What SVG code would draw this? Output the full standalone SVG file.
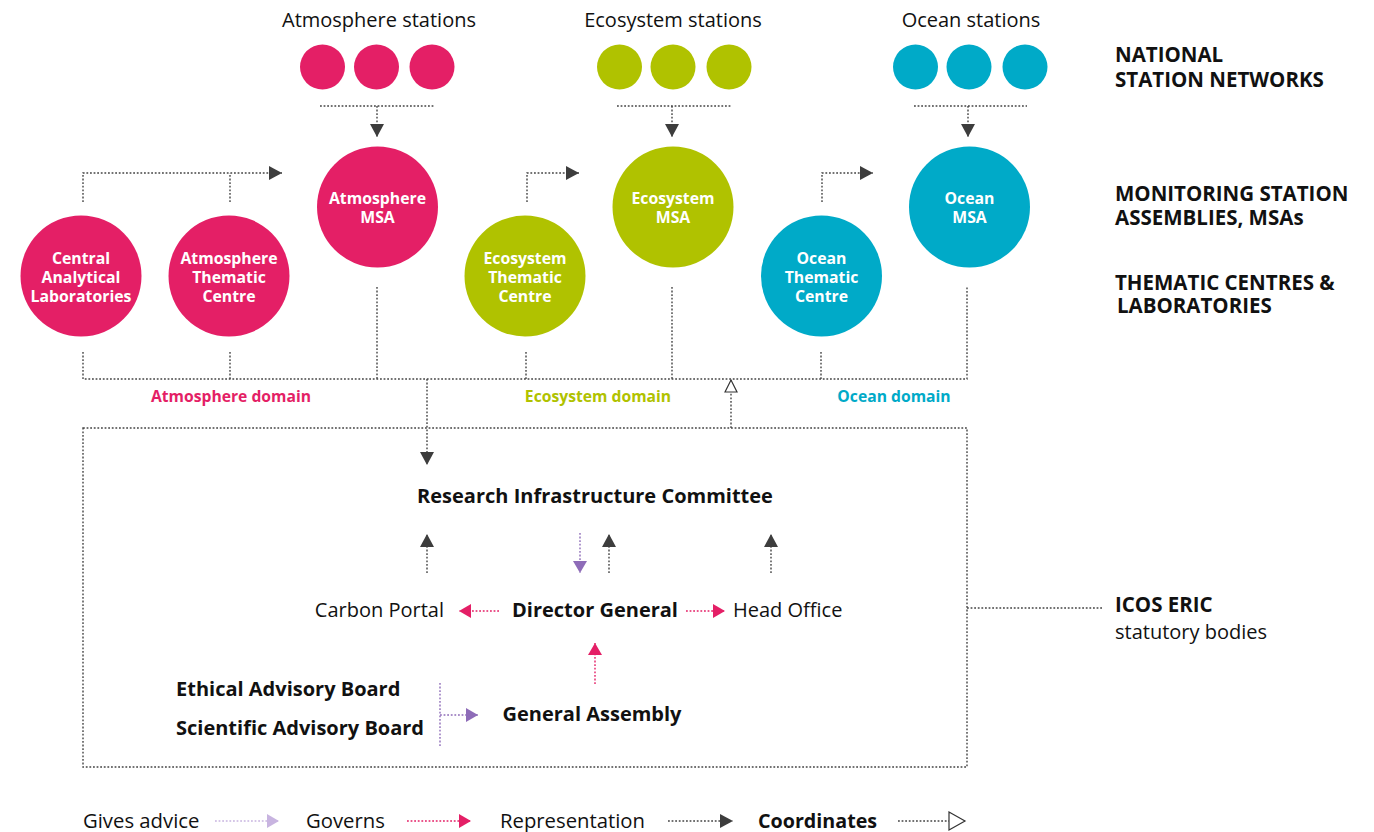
<svg xmlns="http://www.w3.org/2000/svg" width="1374" height="832" viewBox="0 0 1374 832">
<style>
text{font-family:"Open Sans","Noto Sans","DejaVu Sans",sans-serif;}
.w{fill:#fff;font-weight:bold;font-size:15.8px;text-anchor:middle;}
.lbl{font-size:20px;fill:#111;}
.lg{font-size:20.3px;fill:#111;}
.b{font-weight:bold;}
.c{text-anchor:middle;}
.side{font-size:20.5px;font-weight:bold;fill:#111;}
.dom{font-size:15.7px;font-weight:bold;text-anchor:middle;}
.dk{fill:none;stroke:#444;stroke-width:1.4;stroke-dasharray:1.8 1.8;}
.pk{fill:none;stroke:#e41f66;stroke-width:1.4;stroke-dasharray:1.8 1.8;}
.pu{fill:none;stroke:#8e6cb8;stroke-width:1.4;stroke-dasharray:1.8 1.8;}
.lp{fill:none;stroke:#c8b4e0;stroke-width:1.4;stroke-dasharray:1.8 1.8;}
.pink{fill:#e41f66;}
.green{fill:#b0c200;}
.blue{fill:#00aac8;}
</style>
<defs>
<marker id="aD" markerUnits="userSpaceOnUse" markerWidth="14" markerHeight="14" refX="13" refY="7" orient="auto"><path d="M0,0 L13,7 L0,14 z" fill="#3d3d3d"/></marker>
<marker id="aP" markerUnits="userSpaceOnUse" markerWidth="14" markerHeight="14" refX="12" refY="7" orient="auto"><path d="M0,0 L12,7 L0,14 z" fill="#e41f66"/></marker>
<marker id="aU" markerUnits="userSpaceOnUse" markerWidth="14" markerHeight="14" refX="12" refY="7" orient="auto"><path d="M0,0 L12,7 L0,14 z" fill="#8e6cb8"/></marker>
<marker id="aL" markerUnits="userSpaceOnUse" markerWidth="14" markerHeight="14" refX="12" refY="7" orient="auto"><path d="M0,0 L12,7 L0,14 z" fill="#c8b4e0"/></marker>
<marker id="aH" markerUnits="userSpaceOnUse" markerWidth="20" markerHeight="22" refX="17" refY="10" orient="auto"><path d="M1,1 L17,10 L1,19 z" fill="#fff" stroke="#333" stroke-width="1.2"/></marker>
<marker id="aHs" markerUnits="userSpaceOnUse" markerWidth="16" markerHeight="16" refX="13" refY="7" orient="auto"><path d="M1,1 L13,7 L1,13 z" fill="#fff" stroke="#333" stroke-width="1.2"/></marker>
</defs>

<g id="atmosphere-stations">
<text class="lbl c" x="379" y="27">Atmosphere stations</text>
<circle class="pink" cx="322.5" cy="67" r="22.5"/>
<circle class="pink" cx="376.5" cy="67" r="22.5"/>
<circle class="pink" cx="432" cy="67" r="22.5"/>
</g>
<g id="ecosystem-stations">
<text class="lbl c" x="673" y="27">Ecosystem stations</text>
<circle class="green" cx="619.5" cy="67" r="22.5"/>
<circle class="green" cx="673" cy="67" r="22.5"/>
<circle class="green" cx="729" cy="67" r="22.5"/>
</g>
<g id="ocean-stations">
<text class="lbl c" x="971" y="27">Ocean stations</text>
<circle class="blue" cx="915.5" cy="67" r="22.5"/>
<circle class="blue" cx="969" cy="67" r="22.5"/>
<circle class="blue" cx="1025" cy="67" r="22.5"/>
</g>

<g id="central-analytical-laboratories">
<circle class="pink" cx="81" cy="276" r="60.5"/>
<text class="w" x="81" y="264">Central</text>
<text class="w" x="81" y="283">Analytical</text>
<text class="w" x="81" y="302">Laboratories</text>
</g>
<g id="atmosphere-thematic-centre">
<circle class="pink" cx="229" cy="276" r="60.5"/>
<text class="w" x="229" y="264">Atmosphere</text>
<text class="w" x="229" y="283">Thematic</text>
<text class="w" x="229" y="302">Centre</text>
</g>
<g id="atmosphere-msa">
<circle class="pink" cx="377.5" cy="207" r="60.5"/>
<text class="w" x="377.5" y="204">Atmosphere</text>
<text class="w" x="377.5" y="223">MSA</text>
</g>
<g id="ecosystem-thematic-centre">
<circle class="green" cx="525" cy="276" r="60.5"/>
<text class="w" x="525" y="264">Ecosystem</text>
<text class="w" x="525" y="283">Thematic</text>
<text class="w" x="525" y="302">Centre</text>
</g>
<g id="ecosystem-msa">
<circle class="green" cx="673" cy="207" r="60.5"/>
<text class="w" x="673" y="204">Ecosystem</text>
<text class="w" x="673" y="223">MSA</text>
</g>
<g id="ocean-thematic-centre">
<circle class="blue" cx="821.5" cy="276" r="60.5"/>
<text class="w" x="821.5" y="264">Ocean</text>
<text class="w" x="821.5" y="283">Thematic</text>
<text class="w" x="821.5" y="302">Centre</text>
</g>
<g id="ocean-msa">
<circle class="blue" cx="969.5" cy="207" r="60.5"/>
<text class="w" x="969.5" y="204">Ocean</text>
<text class="w" x="969.5" y="223">MSA</text>
</g>

<g id="domains">
<text class="dom" x="231" y="402" fill="#e41f66">Atmosphere domain</text>
<text class="dom" x="598" y="402" fill="#b0c200">Ecosystem domain</text>
<text class="dom" x="894" y="402" fill="#00aac8">Ocean domain</text>
</g>

<g id="icos-eric-box">
<rect class="dk" x="83" y="428" width="884" height="339"/>
</g>

<g id="research-infrastructure-committee">
<text class="lbl b c" x="595" y="503">Research Infrastructure Committee</text>
</g>
<g id="carbon-portal"><text class="lbl" x="444" y="617" text-anchor="end">Carbon Portal</text></g>
<g id="director-general"><text class="lbl b c" x="595" y="617">Director General</text></g>
<g id="head-office"><text class="lbl" x="733" y="617">Head Office</text></g>
<g id="ethical-advisory-board"><text class="lbl b" x="176" y="696">Ethical Advisory Board</text></g>
<g id="scientific-advisory-board"><text class="lbl b" x="176" y="735">Scientific Advisory Board</text></g>
<g id="general-assembly"><text class="lbl b c" x="592" y="721">General Assembly</text></g>

<g id="side-labels">
<text class="side" x="1115" y="62">NATIONAL</text>
<text class="side" x="1115" y="87">STATION NETWORKS</text>
<text class="side" x="1115" y="201">MONITORING STATION</text>
<text class="side" x="1115" y="225">ASSEMBLIES, MSAs</text>
<text class="side" x="1115" y="290">THEMATIC CENTRES &amp;</text>
<text class="side" x="1117" y="313">LABORATORIES</text>
<text class="side" x="1115" y="612">ICOS ERIC</text>
<text class="lbl" x="1115" y="639">statutory bodies</text>
</g>

<g id="connectors">
<path class="dk" d="M320,106 H434"/>
<path class="dk" d="M377,106 V137" marker-end="url(#aD)"/>
<path class="dk" d="M617,106 H731"/>
<path class="dk" d="M672,106 V137" marker-end="url(#aD)"/>
<path class="dk" d="M914,106 H1027"/>
<path class="dk" d="M968,106 V137" marker-end="url(#aD)"/>
<path class="dk" d="M83,202 V173 H282" marker-end="url(#aD)"/>
<path class="dk" d="M230,202 V173"/>
<path class="dk" d="M527,202 V173 H579" marker-end="url(#aD)"/>
<path class="dk" d="M822,202 V173 H873" marker-end="url(#aD)"/>
<path class="dk" d="M83,352 V379 H967 V287"/>
<path class="dk" d="M230,352 V379"/>
<path class="dk" d="M377,287 V379"/>
<path class="dk" d="M526,352 V379"/>
<path class="dk" d="M672,287 V379"/>
<path class="dk" d="M821,352 V379"/>
<path class="dk" d="M427,379 V465" marker-end="url(#aD)"/>
<path class="dk" d="M731,428 V380" marker-end="url(#aHs)"/>
<path class="dk" d="M427,573 V534" marker-end="url(#aD)"/>
<path class="dk" d="M609,573 V534" marker-end="url(#aD)"/>
<path class="dk" d="M771,573 V534" marker-end="url(#aD)"/>
<path class="pu" d="M580,533 V573" marker-end="url(#aU)"/>
<path class="pk" d="M499,611 H459" marker-end="url(#aP)"/>
<path class="pk" d="M686,611 H725" marker-end="url(#aP)"/>
<path class="pk" d="M595,684 V643" marker-end="url(#aP)"/>
<path class="pu" d="M440,683 V746"/>
<path class="pu" d="M440,715 H478" marker-end="url(#aU)"/>
<path class="dk" d="M967,608 H1103"/>
</g>

<g id="legend">
<text class="lg" x="83" y="828">Gives advice</text>
<path class="lp" d="M215,821 H279" marker-end="url(#aL)"/>
<text class="lg" x="306" y="828">Governs</text>
<path class="pk" d="M407,821 H471" marker-end="url(#aP)"/>
<text class="lg" x="500" y="828">Representation</text>
<path class="dk" d="M668,821 H733" marker-end="url(#aD)"/>
<text class="lg b" x="758" y="828" style="font-size:19.7px">Coordinates</text>
<path class="dk" d="M898,821 H965" marker-end="url(#aH)"/>
</g>
</svg>
